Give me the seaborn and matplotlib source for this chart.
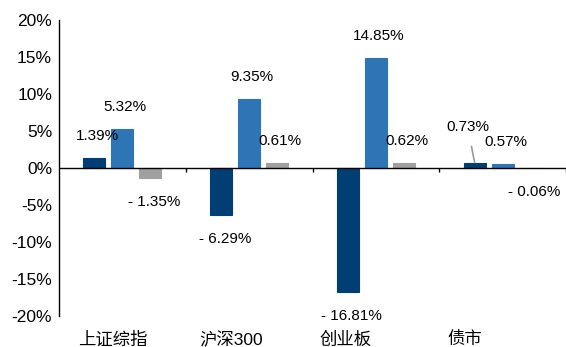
import numpy as np
import pandas as pd
import matplotlib
matplotlib.use("Agg")
import matplotlib.pyplot as plt
from matplotlib.transforms import ScaledTranslation
import seaborn as sns

# 各市场三个阶段的涨跌幅（%）
categories = ["上证综指", "沪深300", "创业板", "债市"]
series_names = ["阶段一", "阶段二", "阶段三"]
stage1 = [1.39, -6.29, -16.81, 0.73]
stage2 = [5.32, 9.35, 14.85, 0.57]
stage3 = [-1.35, 0.61, 0.62, -0.06]
y_ticks = [-20, -15, -10, -5, 0, 5, 10, 15, 20]

colors = ["#003E74", "#2E75B6", "#A0A0A0"]

df = pd.DataFrame({
    "market": categories * 3,
    "stage": np.repeat(series_names, len(categories)),
    "value": stage1 + stage2 + stage3,
})

sns.set_style("white")
plt.rcParams["font.family"] = ["Liberation Sans", "Noto Sans CJK SC", "DejaVu Sans"]
plt.rcParams["axes.unicode_minus"] = False

W, H, DPI = 566, 347, 100
fig = plt.figure(figsize=(W / DPI, H / DPI), dpi=DPI)
ax = fig.add_axes([59 / W, 1 - 316 / H, 507 / W, 296 / H])

sns.barplot(data=df, x="market", y="value", hue="stage", order=categories,
            hue_order=series_names, palette=colors, saturation=1,
            width=0.663, gap=0.21, linewidth=0, legend=False, ax=ax,
            errorbar=None)

# 细边框让极小的柱子也能显示出来
for cont, col in zip(ax.containers, colors):
    for bar in cont:
        bar.set_edgecolor(col)
        bar.set_linewidth(0.8)

ax.set_xlim(-0.5, len(categories) - 0.5)
ax.set_ylim(y_ticks[0], y_ticks[-1])
ax.set_yticks(y_ticks)
ax.set_yticklabels([f"{t}%" for t in y_ticks], fontsize=12.5)
ax.set_xlabel("")
ax.set_ylabel("")

for side in ("top", "right", "bottom"):
    ax.spines[side].set_visible(False)
ax.spines["left"].set_color("black")
ax.spines["left"].set_linewidth(1)
ax.tick_params(axis="y", direction="out", length=3, width=1, color="black",
               pad=2, labelcolor="black")
ax.tick_params(axis="x", length=0, pad=11, labelsize=12.5, labelcolor="black")

# 零轴与分类分隔刻度
ax.axhline(0, color="black", lw=1, zorder=3)
ax.vlines(np.arange(len(categories)) + 0.5, -0.55, 0, color="black", lw=1,
          clip_on=False, zorder=3)

# 分类标签微调
shifts = [-10, -18, -30, -38]
for lab, dx in zip(ax.get_xticklabels(), shifts):
    lab.set_transform(lab.get_transform() + ScaledTranslation(dx / DPI, 0, fig.dpi_scale_trans))


def fmt(v):
    return f"{v:.2f}%" if v >= 0 else f"- {abs(v):.2f}%"


series_values = [stage1, stage2, stage3]
for cont, vals in zip(ax.containers, series_values):
    for bar, v in zip(cont, vals):
        cx = bar.get_x() + bar.get_width() / 2
        if v >= 0:
            dx, dy = 3, 22
        else:
            dx, dy = 4, -24
        arrow = None
        if 0 < v < 1 and cont is ax.containers[0]:
            dx, dy = -7, 36
            arrow = dict(arrowstyle="-", color="#9A9A9A", lw=1.2,
                         shrinkA=7, shrinkB=0)
        ax.annotate(fmt(v), xy=(cx, v), xytext=(dx, dy),
                    textcoords="offset pixels", ha="center", va="center",
                    fontsize=11, color="black", arrowprops=arrow,
                    annotation_clip=False)

fig.savefig("out.png", dpi=DPI, facecolor="white")
